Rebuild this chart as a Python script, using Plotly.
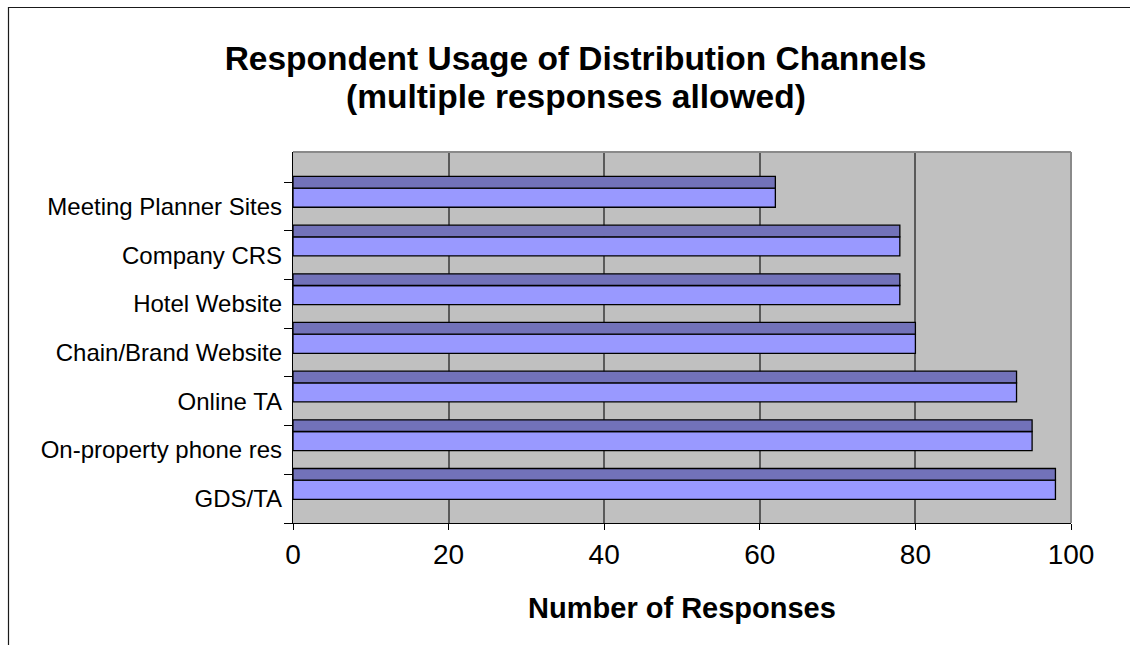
import plotly.graph_objects as go

# Data (bottom to top as drawn by plotly)
categories = ["GDS/TA", "On-property phone res", "Online TA", "Chain/Brand Website",
              "Hotel Website", "Company CRS", "Meeting Planner Sites"]
responses = [98, 95, 93, 80, 78, 78, 62]
x_ticks = [0, 20, 40, 60, 80, 100]
title_line1 = "Respondent Usage of Distribution Channels"
title_line2 = "(multiple responses allowed)"
x_title = "Number of Responses"

FONT = "Arial, Liberation Sans, sans-serif"
W, H = 1130, 645
L, R, T, B = 293, 59, 152, 122
pw, ph = W - L - R, H - T - B

fig = go.Figure()
# front face of each 3D bar
fig.add_trace(go.Bar(
    y=categories, x=responses, orientation="h",
    offset=-0.013, width=0.393,
    marker=dict(color="#9999FF", line=dict(color="black", width=1.3)),
    showlegend=False, hoverinfo="x+y"))
# top face of each 3D bar
fig.add_trace(go.Bar(
    y=categories, x=responses, orientation="h",
    offset=0.38, width=0.24,
    marker=dict(color="#7272B9", line=dict(color="black", width=1.3)),
    showlegend=False, hoverinfo="skip"))

def px_x(X):
    return (X - L) / pw

def px_y(Y):
    return (H - B - Y) / ph

shapes = [
    # outer chart frame (left and top edges)
    dict(type="path", xref="paper", yref="paper",
         path=f"M {px_x(8.5)} {px_y(660)} L {px_x(8.5)} {px_y(7.5)} L {px_x(1140)} {px_y(7.5)}",
         line=dict(color="#1a1a1a", width=1.2)),
    # wall top and right edges
    dict(type="line", xref="paper", yref="paper", x0=0, x1=1, y0=1, y1=1,
         line=dict(color="#8a8a8a", width=2)),
    dict(type="line", xref="paper", yref="paper", x0=1, x1=1, y0=0, y1=1,
         line=dict(color="#8a8a8a", width=2)),
]

fig.update_layout(
    width=W, height=H,
    margin=dict(l=L, r=R, t=T, b=B, autoexpand=False),
    paper_bgcolor="white", plot_bgcolor="#C0C0C0",
    barmode="overlay",
    font=dict(family=FONT, color="black"),
    title=dict(text=f"<b>{title_line1}</b>",
               x=575.5 / W, xanchor="center", xref="container",
               y=1 - 58 / H, yanchor="middle", yref="container",
               font=dict(size=33.5, family=FONT, color="black")),
    annotations=[dict(text=f"<b>{title_line2}</b>", showarrow=False,
                      xref="paper", yref="paper",
                      x=px_x(576), y=px_y(96), xanchor="center", yanchor="middle",
                      font=dict(size=33.5, family=FONT, color="black"))],
    shapes=shapes,
)

fig.update_xaxes(
    range=[0, 100], tickvals=x_ticks, ticktext=[str(v) for v in x_ticks],
    showgrid=True, gridcolor="#5a5a5a", gridwidth=2, zeroline=False,
    showline=True, linecolor="black", linewidth=1.2,
    ticks="outside", ticklen=6, tickcolor="black", tickwidth=1.2,
    tickfont=dict(size=28, family=FONT, color="black"),
    title=dict(text=f"<b>{x_title}</b>", standoff=28,
               font=dict(size=29, family=FONT, color="black")),
)
fig.update_yaxes(
    type="category", categoryorder="array", categoryarray=categories,
    range=[-0.5, 6.5 + 30.3 / 48.67],
    showgrid=False, zeroline=False,
    showline=True, linecolor="black", linewidth=1.2,
    ticks="outside", ticklen=8, tickcolor="black", tickwidth=1.2,
    tickson="boundaries", ticklabelstandoff=5,
    tickfont=dict(size=24, family=FONT, color="black"),
)

fig.write_html("out.html")
